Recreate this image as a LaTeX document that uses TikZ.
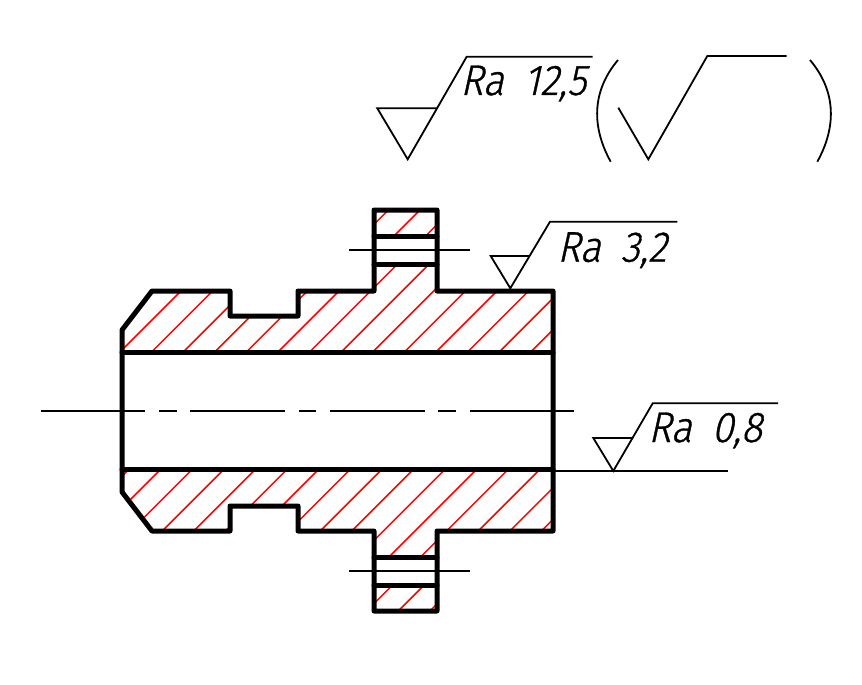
\documentclass[tikz,border=0pt]{standalone}
\usepackage{fontspec}
\newfontfamily\rafont[FakeSlant=0.22,FakeStretch=0.91,FakeBold=0.9]{Fira Sans Light}
\tikzset{
  thick line/.style={line width=5pt,line join=round,line cap=round},
  thin line/.style={line width=1.8pt,line join=miter},
  axis line/.style={line width=1.3pt},
  hatch line/.style={line width=1.5pt,red},
  paren/.style={line width=1.8pt},
  ra/.style={anchor=base west,inner sep=0pt,font=\rafont\fontsize{43pt}{43pt}\selectfont}
}
\begin{document}
\begin{tikzpicture}[x=1pt,y=-1pt]
\useasboundingbox (0,0) rectangle (862,685);
% hatching
\begin{scope}
  \clip (374,210) -- (437,210) -- (437,236) -- (374,236) -- cycle
        (122,352) -- (122,330) -- (152,291) -- (230,291) -- (230,316) -- (298,316) -- (298,291) -- (374,291) -- (374,264) -- (437,264) -- (437,291) -- (553,291) -- (553,352) -- cycle
        (122,469) -- (122,492) -- (152,531) -- (230,531) -- (230,506) -- (298,506) -- (298,531) -- (374,531) -- (374,557) -- (437,557) -- (437,531) -- (553,531) -- (553,469) -- cycle
        (374,585) -- (437,585) -- (437,611) -- (374,611) -- cycle;
  \foreach \k in {-6,...,14} {
    \draw[hatch line] ({630+31.6*\k-620},620) -- ({630+31.6*\k-200},200);
  }
\end{scope}
% axes
\draw[axis line] (41,411) -- (145,411) (159.3,411) -- (176.7,411) (190.3,411) -- (285,411) (299,411) -- (316,411) (330,411) -- (424.7,411) (438.3,411) -- (455.7,411) (470,411) -- (574,411);
\draw[axis line] (349,250) -- (470,250);
\draw[axis line] (349,571) -- (470,571);
% outline
\draw[thick line] (122,330) -- (152,291) -- (230,291) -- (230,316) -- (298,316) -- (298,291) -- (374,291) -- (374,210) -- (437,210) -- (437,291) -- (553,291) -- (553,531) -- (437,531) -- (437,611) -- (374,611) -- (374,531) -- (298,531) -- (298,506) -- (230,506) -- (230,531) -- (152,531) -- (122,492) -- cycle;
\draw[thick line] (122,352) -- (553,352);
\draw[thick line] (122,469) -- (553,469);
\draw[thick line] (374,236) -- (437,236) (374,264) -- (437,264);
\draw[thick line] (374,557) -- (437,557) (374,585) -- (437,585);
% roughness signs
\draw[thin line] (436.7,108.3) -- (377.3,108.3) -- (407.7,159.3) -- (466.7,56.7) -- (592.7,56.7);
\draw[thin line] (530,256) -- (490.7,256) -- (510.3,288.3) -- (550,221.7) -- (677.3,221.7);
\draw[thin line] (633.3,438) -- (593.3,438) -- (613.3,471) -- (652.7,403.3) -- (778,403.3);
\draw[thin line] (553,471) -- (728,471);
\draw[thin line] (618.3,107.7) -- (648.3,159.3) -- (707.3,56) -- (786.7,56);
\draw[paren] (618,60) .. controls (591,92) and (592,128) .. (610.7,161.7);
\draw[paren] (810,60) .. controls (837,92) and (836,128) .. (817.3,161.7);
% labels
\node[ra] (t1) at (460,95) {Ra\hspace{20pt}12,5};
\node[ra] (t2) at (557,261.7) {Ra\hspace{20pt}3,2};
\node[ra] (t3) at (648,442) {Ra\hspace{20pt}0,8};
\end{tikzpicture}
\end{document}
